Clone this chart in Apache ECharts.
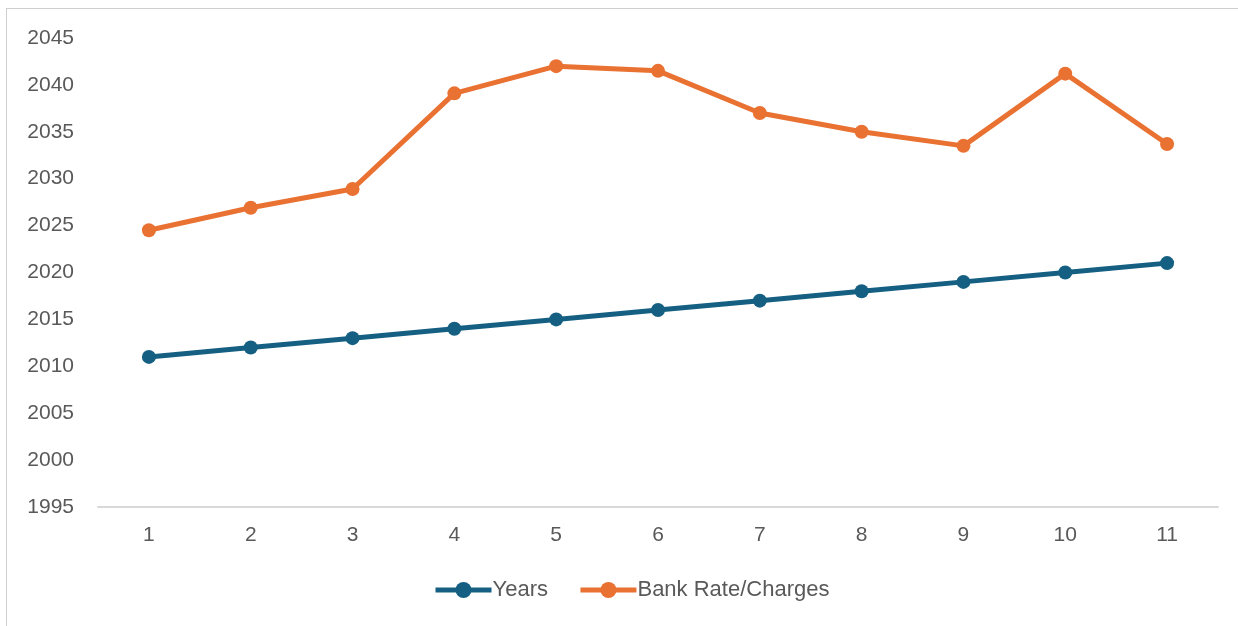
<!DOCTYPE html>
<html>
<head>
<meta charset="utf-8">
<script src="https://cdn.jsdelivr.net/npm/echarts@6/dist/echarts.min.js"></script>
<style>
  html, body { margin: 0; padding: 0; background: #fff; }
  #frame { position: absolute; left: 6px; top: 8px; width: 1400px; height: 800px; border: 1.5px solid #cfcfcf; box-sizing: border-box; }
  #chart { position: absolute; left: 0; top: 0; width: 1238px; height: 626px; }
</style>
</head>
<body>
<div id="frame"></div>
<div id="chart"></div>
<script>
const categories = ['1', '2', '3', '4', '5', '6', '7', '8', '9', '10', '11'];
const years = [2011, 2012, 2013, 2014, 2015, 2016, 2017, 2018, 2019, 2020, 2021];
const bankRateCharges = [2024.5, 2026.9, 2028.9, 2039.1, 2042.0, 2041.5, 2037.0, 2035.0, 2033.5, 2041.2, 2033.7];
const seriesNames = ['Years', 'Bank Rate/Charges'];

const chart = echarts.init(document.getElementById('chart'), null, { renderer: 'canvas' });
const font = 'Liberation Sans, Arial, sans-serif';
chart.setOption({
  animation: false,
  grid: { left: 98, right: 20, top: 38, bottom: 119, containLabel: false },
  xAxis: {
    type: 'category',
    data: categories,
    boundaryGap: true,
    axisLine: { lineStyle: { color: '#d9d9d9', width: 2 } },
    axisTick: { show: false },
    axisLabel: { color: '#595959', fontSize: 21, fontFamily: font, margin: 18 }
  },
  yAxis: {
    type: 'value',
    min: 1995, max: 2045, interval: 5,
    axisLine: { show: false },
    axisTick: { show: false },
    splitLine: { show: false },
    axisLabel: { color: '#595959', fontSize: 21, fontFamily: font, margin: 24, formatter: v => String(v) }
  },
  legend: {
    left: 428, top: 574,
    itemWidth: 56, itemHeight: 20, itemGap: 30,
    lineStyle: { width: 5 },
    textStyle: { color: '#595959', fontSize: 22, fontFamily: font, padding: [0, 0, 0, -4] },
    data: seriesNames
  },
  series: [
    {
      name: seriesNames[0], type: 'line', data: years,
      symbol: 'circle', symbolSize: 14,
      lineStyle: { color: '#156082', width: 5 },
      itemStyle: { color: '#156082' }
    },
    {
      name: seriesNames[1], type: 'line', data: bankRateCharges,
      symbol: 'circle', symbolSize: 14,
      lineStyle: { color: '#E97132', width: 5 },
      itemStyle: { color: '#E97132' }
    }
  ]
});
</script>
</body>
</html>
